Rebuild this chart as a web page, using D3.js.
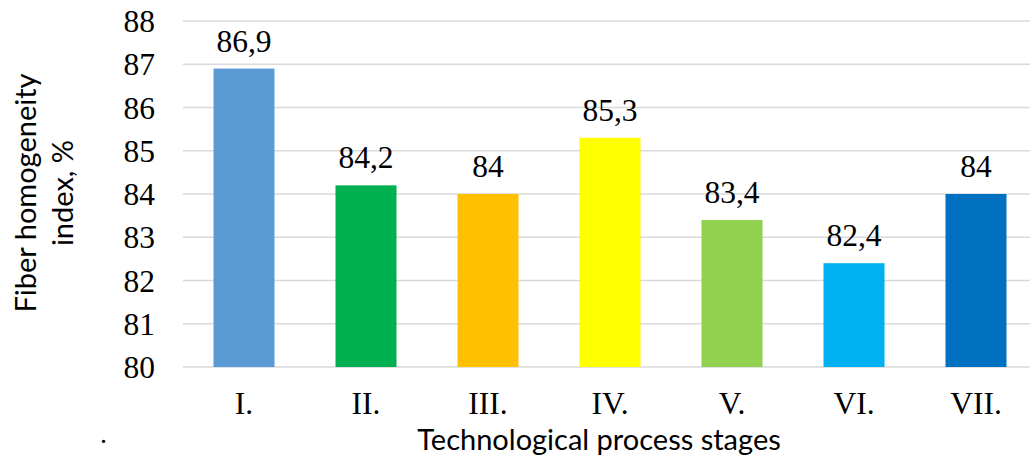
<!DOCTYPE html>
<html>
<head>
<meta charset="utf-8">
<script src="https://cdn.jsdelivr.net/npm/d3@7"></script>
<style>
  html, body { margin: 0; padding: 0; background: #fff; }
  svg { display: block; }
</style>
</head>
<body>
<svg id="chart" width="1030" height="457"></svg>
<script>
// Stages of the technological process and the fiber homogeneity index for each
const stages = ["I.", "II.", "III.", "IV.", "V.", "VI.", "VII."];
const homogeneity = [86.9, 84.2, 84, 85.3, 83.4, 82.4, 84];
const barColors = ["#5b9bd5", "#00b050", "#ffc000", "#ffff00", "#92d050", "#00b0f0", "#0070c0"];
const yTicks = [80, 81, 82, 83, 84, 85, 86, 87, 88];
const yTitleLines = ["Fiber homogeneity", "index, %"];
const xTitle = "Technological process stages";

const svg = d3.select("#chart");
const serif = "'Liberation Serif', 'Times New Roman', serif";
const sans = "Lato, 'Open Sans', sans-serif";
const numSize = 31.5;

const x = d3.scaleBand()
  .domain(stages)
  .range([183, 1037])
  .paddingInner(0.5)
  .paddingOuter(0.25);

const y = d3.scaleLinear()
  .domain([80, 88])
  .range([367, 21]);

// Horizontal gridlines
svg.append("g")
  .selectAll("line")
  .data(yTicks)
  .join("line")
  .attr("x1", 183)
  .attr("x2", 1030)
  .attr("y1", d => y(d))
  .attr("y2", d => y(d))
  .attr("stroke", "#d9d9d9")
  .attr("stroke-width", 1.5);

// Y axis tick labels
const yAxis = d3.axisLeft(y).tickValues(yTicks).tickSize(0).tickPadding(0)
  .tickFormat(d3.format("d"));
svg.append("g")
  .attr("transform", "translate(155,0)")
  .call(yAxis)
  .call(g => g.select(".domain").remove())
  .call(g => g.selectAll("text")
    .attr("font-family", serif)
    .attr("font-size", numSize)
    .attr("fill", "#000")
    .attr("dy", "0.34em"));

// Bars
svg.append("g")
  .selectAll("rect")
  .data(stages)
  .join("rect")
  .attr("x", d => x(d))
  .attr("width", x.bandwidth())
  .attr("y", (d, i) => y(homogeneity[i]))
  .attr("height", (d, i) => y(80) - y(homogeneity[i]))
  .attr("fill", (d, i) => barColors[i]);

// Value labels above bars
const fmt = v => String(v).replace(".", ",");
svg.append("g")
  .selectAll("text")
  .data(stages)
  .join("text")
  .attr("x", d => x(d) + x.bandwidth() / 2)
  .attr("y", (d, i) => y(homogeneity[i]) - 17)
  .attr("text-anchor", "middle")
  .attr("font-family", serif)
  .attr("font-size", numSize)
  .attr("fill", "#000")
  .text((d, i) => fmt(homogeneity[i]));

// X axis category labels
const xAxis = d3.axisBottom(x).tickSize(0).tickPadding(0);
svg.append("g")
  .attr("transform", "translate(0,414)")
  .call(xAxis)
  .call(g => g.select(".domain").remove())
  .call(g => g.selectAll("text")
    .attr("font-family", serif)
    .attr("font-size", numSize)
    .attr("fill", "#000")
    .attr("dy", 0));

// X axis title
svg.append("text")
  .attr("x", 599)
  .attr("y", 450)
  .attr("text-anchor", "middle")
  .attr("font-family", sans)
  .attr("font-size", 29)
  .attr("fill", "#000")
  .text(xTitle);

// Y axis title (two lines, rotated)
const yTitle = svg.append("text")
  .attr("transform", "translate(0,193) rotate(-90)")
  .attr("text-anchor", "middle")
  .attr("font-family", sans)
  .attr("font-size", 29)
  .attr("fill", "#000");
yTitle.selectAll("tspan")
  .data(yTitleLines)
  .join("tspan")
  .attr("x", 0)
  .attr("y", (d, i) => 36 + i * 37)
  .text(d => d);

// Small stray period at the lower left
svg.append("text")
  .attr("x", 100)
  .attr("y", 443)
  .attr("font-family", serif)
  .attr("font-size", 28)
  .attr("fill", "#000")
  .text(".");
</script>
</body>
</html>
